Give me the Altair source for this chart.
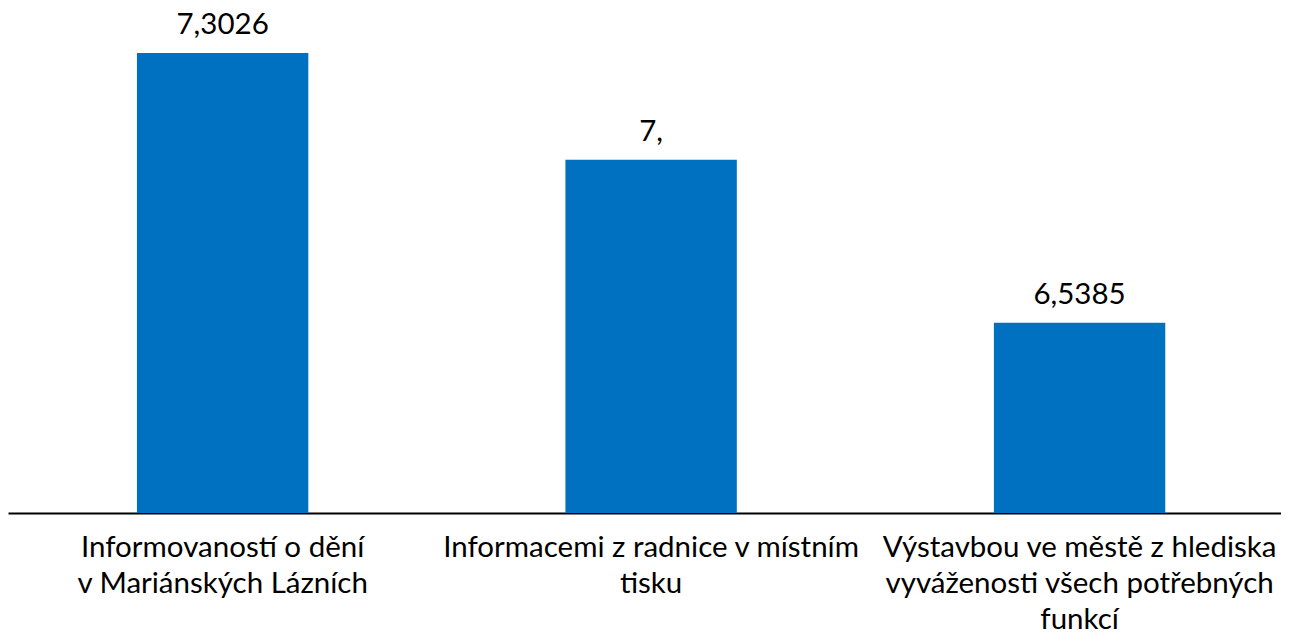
import altair as alt
import pandas as pd

categories = [
    "Informovaností o dění|v Mariánských Lázních",
    "Informacemi z radnice v místním|tisku",
    "Výstavbou ve městě z hlediska|vyváženosti všech potřebných|funkcí",
]
values = [7.3026, 7.0, 6.5385]
value_labels = ["7,3026", "7,", "6,5385"]

df = pd.DataFrame({"cat": categories, "val": values, "lab": value_labels})

FONT = "Lato"

x = alt.X(
    "cat:N",
    sort=None,
    scale=alt.Scale(paddingInner=0.6, paddingOuter=0.2855, align=0.527),
    axis=alt.Axis(
        title=None,
        labelAngle=0,
        ticks=False,
        domainColor="#000000",
        domainWidth=2,
        labelFont=FONT,
        labelFontSize=29.5,
        labelColor="#000000",
        labelPadding=20,
        labelLineHeight=36,
        labelExpr="split(datum.label, '|')",
        labelLimit=0,
    ),
)
y = alt.Y(
    "val:Q",
    scale=alt.Scale(domain=[6, 7.43], zero=False, clamp=True, nice=False),
    axis=None,
)

bars = alt.Chart(df).mark_bar(color="#0070C0", clip=True).encode(x=x, y=y, y2=alt.datum(6))
text = alt.Chart(df).mark_text(
    font=FONT, fontSize=29.5, color="#000000", baseline="alphabetic", dy=-19
).encode(x=x, y=y, text="lab:N")

chart = (
    alt.layer(bars, text)
    .properties(
        width=1273,
        height=505,
        padding={"left": 0, "top": 0, "right": 0, "bottom": 123},
        autosize=alt.AutoSizeParams(type="none"),
    )
    .configure_view(stroke=None)
)

chart.save("out.html", embed_options={"renderer": "svg", "actions": False})
